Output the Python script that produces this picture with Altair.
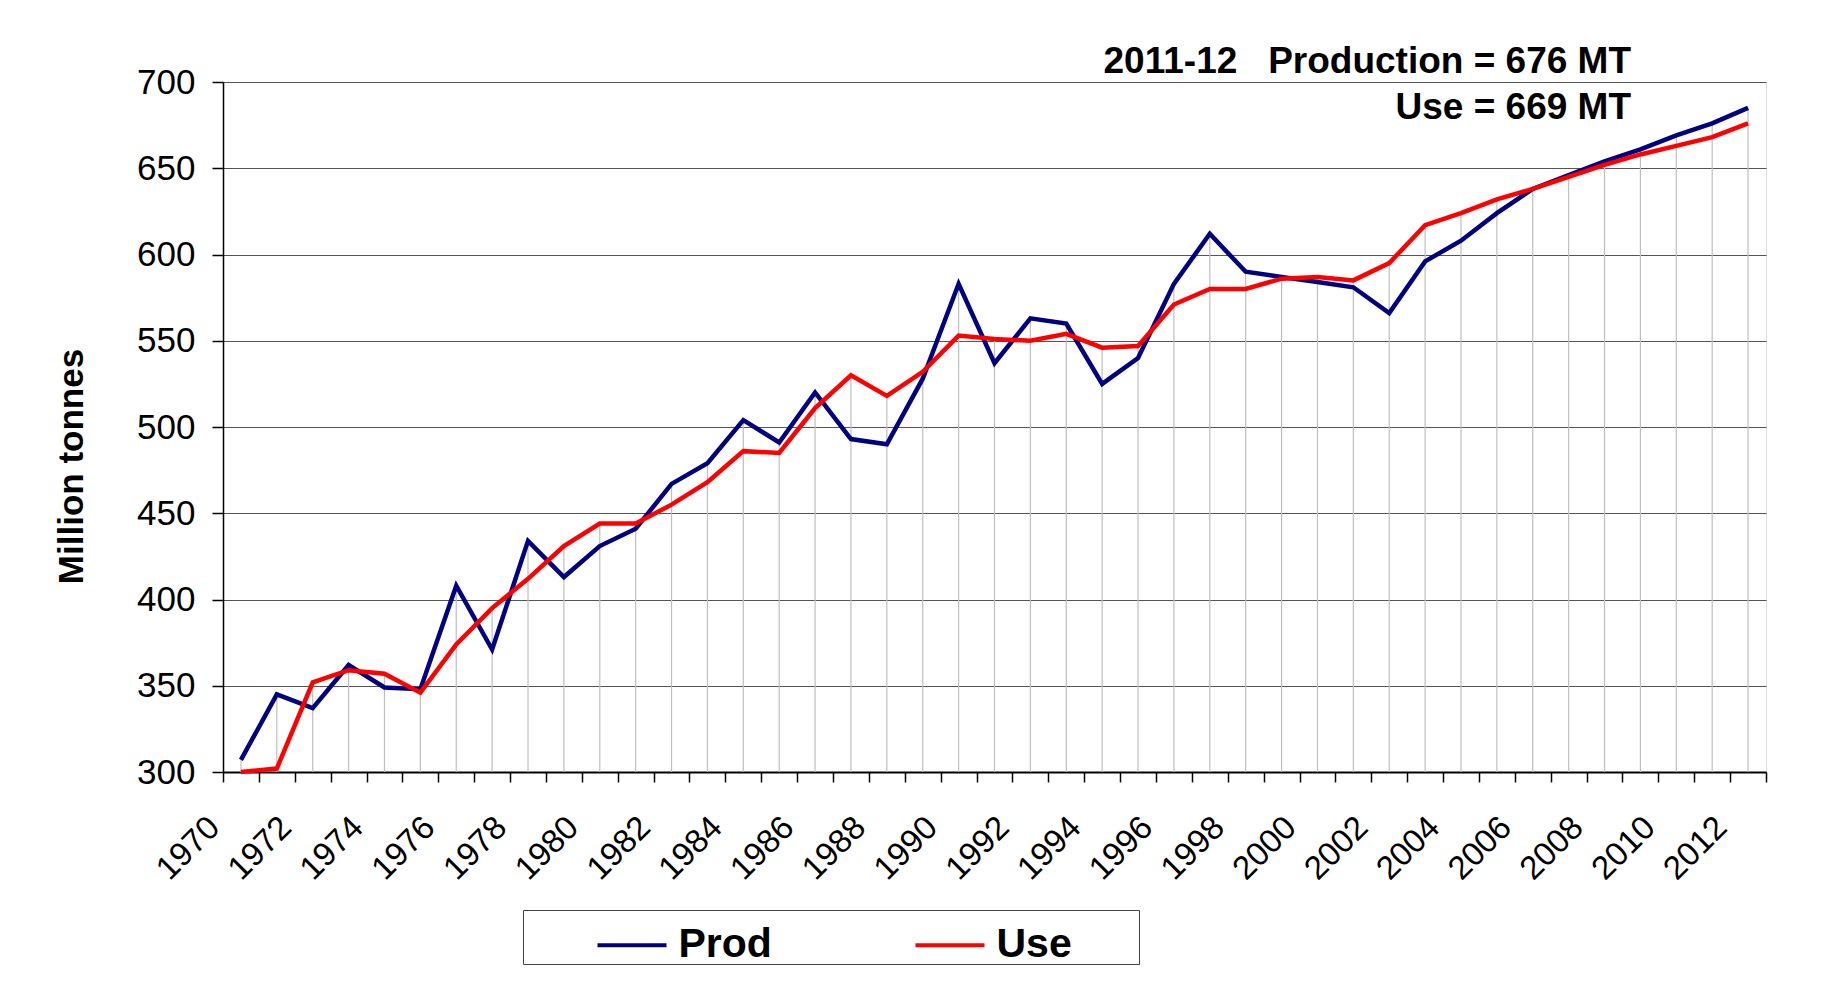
import altair as alt
import pandas as pd

years = list(range(1970, 2013))
prod = [307, 345, 337, 362, 349, 348, 408, 371, 434, 413, 431, 441, 467, 479, 504,
        491, 520, 493, 490, 528, 583, 537, 563, 560, 525, 540, 583, 612, 590, 587,
        584, 581, 566, 596, 608, 624, 638, 646, 654, 661, 669, 676, 685]
use = [300, 302, 352, 359, 357, 346, 374, 395, 412, 431, 444, 444, 455, 468, 486,
       485, 511, 530, 518, 532, 553, 551, 550, 554, 546, 547, 571, 580, 580, 586,
       587, 585, 595, 617, 624, 632, 638, 645, 652, 658, 663, 668, 676]
series_names = ["Prod", "Use"]
series_colors = ["#000080", "#FF0000"]
y_ticks = [300, 350, 400, 450, 500, 550, 600, 650, 700]
x_label_years = list(range(1970, 2013, 2))
x_tick_bounds = [1969.5 + i for i in range(44)]

FONT = "Liberation Sans"
NB = "\u00a0"
ZW = "\u200b"

long_df = pd.DataFrame({
    "year": years + years,
    "series": ["Prod"] * len(years) + ["Use"] * len(years),
    "value": prod + use,
})
top_df = pd.DataFrame({"year": years, "top": [max(p, u) for p, u in zip(prod, use)]})

xscale = alt.Scale(domain=[1969.5, 2012.5], nice=False, zero=False)
yscale = alt.Scale(domain=[300, 700], nice=False, zero=False)

yaxis = alt.Axis(
    values=y_ticks, title="Million tonnes", titleFont=FONT, titleFontSize=35,
    titleFontWeight="bold", titleColor="black", titleX=-141, titleY=384,
    titleAngle=270, titleBaseline="alphabetic", titleAlign="center",
    labelFont=FONT, labelFontSize=35, labelColor="black", labelPadding=17,
    tickSize=11, tickColor="black", tickWidth=1.5,
    domainColor="black", domainWidth=1.5,
    grid=True, gridColor="#555555", gridWidth=1,
)

xaxis_ticks = alt.Axis(
    values=x_tick_bounds, labels=False, ticks=True, tickSize=10, tickColor="black",
    tickWidth=1.5, domain=True, domainColor="black", domainWidth=2, grid=False,
    title=None, orient="bottom",
)

xaxis_labels = alt.Axis(
    values=x_label_years, format="d", labelAngle=315, labelAlign="right",
    labelBaseline="middle", labelFont=FONT, labelFontSize=33, labelColor="black",
    labelOffset=-27, labelPadding=50, ticks=False, domain=False, grid=False,
    title=None, orient="bottom", labelOverlap=False, labelFlush=False, labelBound=False,
)

drops = alt.Chart(top_df).mark_rule(color="#BFBFBF", strokeWidth=1.2).encode(
    x=alt.X("year:Q", scale=xscale, axis=xaxis_ticks),
    y=alt.Y("top:Q", scale=yscale, axis=yaxis),
    y2=alt.datum(300),
)

legend = alt.Legend(
    orient="none", legendX=300, legendY=828, direction="horizontal",
    title=NB, titleOrient="left", titleFontSize=8, titlePadding=74,
    symbolType="stroke", symbolSize=4761, symbolStrokeWidth=4,
    labelFont=FONT, labelFontSize=41, labelFontWeight="bold", labelColor="black",
    labelOffset=10, columnPadding=135, padding=-1.5, labelLimit=400,
    strokeColor="#444444", fillColor="white",
    labelExpr="datum.label == 'Use' ? 'Use" + NB * 6 + ZW + "' : datum.label",
)

lines = alt.Chart(long_df).mark_line(strokeWidth=4.5).encode(
    x=alt.X("year:Q", scale=xscale, axis=xaxis_labels),
    y=alt.Y("value:Q", scale=yscale, axis=yaxis),
    color=alt.Color("series:N", scale=alt.Scale(domain=series_names, range=series_colors),
                    legend=legend),
)

chart = alt.layer(drops, lines).resolve_axis(x="independent").properties(
    width=1543,
    height=690,
    autosize=alt.AutoSizeParams(type="none"),
    padding={"left": 215, "top": 74, "right": 60, "bottom": 220},
    title=alt.TitleParams(
        text="2011-12" + NB * 3 + "Production = 676 MT",
        subtitle="Use = 669 MT",
        anchor="end", frame="group", orient="top",
        font=FONT, fontSize=37, fontWeight="bold", color="black",
        subtitleFont=FONT, subtitleFontSize=37, subtitleFontWeight="bold",
        subtitleColor="black", subtitlePadding=9, offset=-62, dx=-135,
    ),
).configure_view(stroke="#808080", strokeWidth=1.5).configure(background="white")

chart.save("out.html", embed_options={"renderer": "svg", "actions": False})
